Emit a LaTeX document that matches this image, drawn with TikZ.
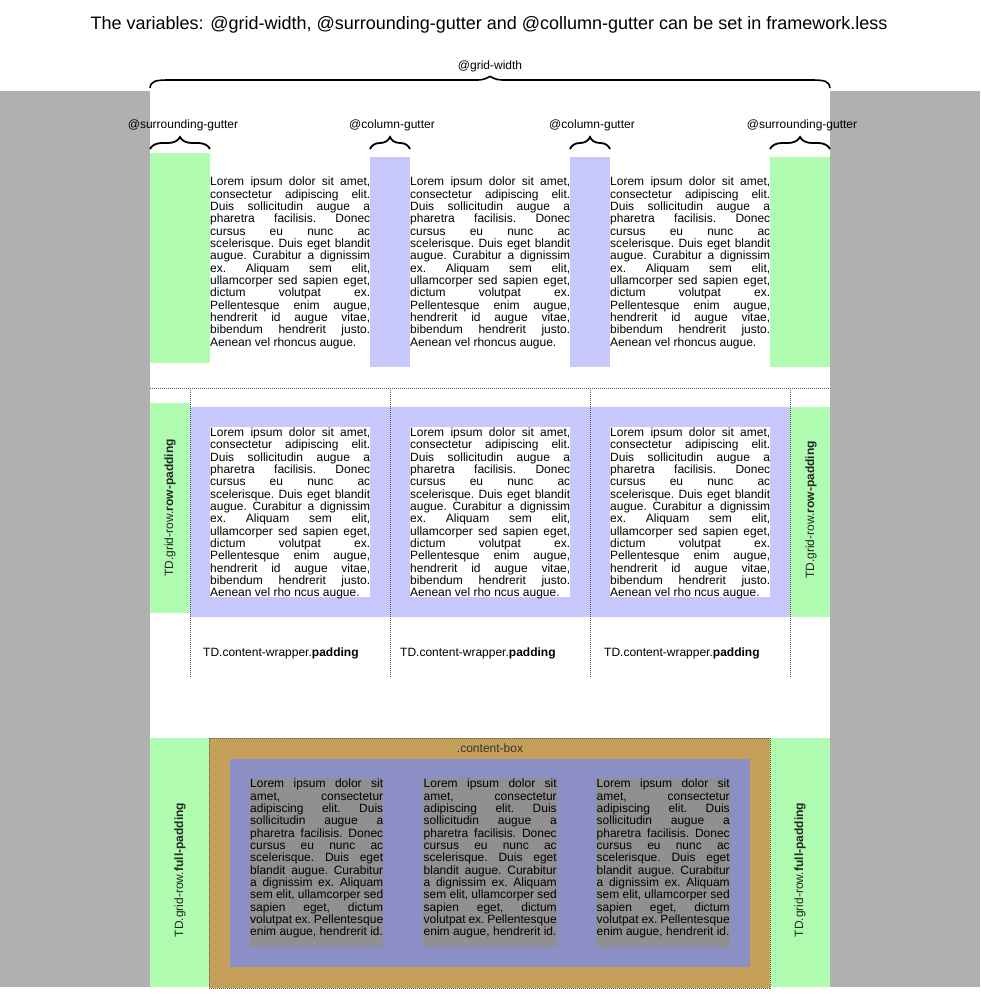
\documentclass[tikz,border=0pt]{standalone}
\usepackage{fontspec}
\setmainfont{Liberation Sans}
\usetikzlibrary{decorations.pathreplacing}
\definecolor{bggray}{RGB}{175,176,175}
\definecolor{gutgreen}{RGB}{176,252,176}
\definecolor{gutblue}{RGB}{200,200,252}
\definecolor{boxbrown}{RGB}{196,160,90}
\definecolor{boxpurple}{RGB}{140,143,198}
\definecolor{boxgray}{RGB}{143,144,143}
\definecolor{dotgray}{RGB}{90,90,90}
\newdimen\lorw
\newcommand\lorfont{\fontsize{12}{12.33}\selectfont\frenchspacing\spaceskip=0.278em plus 1fil minus 0.06em\relax}
\newcommand\jl[1]{\hbox to \lorw{#1}}
\newcommand\lastl[1]{\hbox to \lorw{#1\hfill}}
\newcommand\loremtext[1]{\vbox{\lorw=160pt\lorfont
\jl{Lorem ipsum dolor sit amet,}\jl{consectetur adipiscing elit.}\jl{Duis sollicitudin augue a}\jl{pharetra facilisis. Donec}\jl{cursus eu nunc ac}\jl{scelerisque. Duis eget blandit}\jl{augue. Curabitur a dignissim}\jl{ex. Aliquam sem elit,}\jl{ullamcorper sed sapien eget,}\jl{dictum volutpat ex.}\jl{Pellentesque enim augue,}\jl{hendrerit id augue vitae,}\jl{bibendum hendrerit justo.}\lastl{#1}}}
\newcommand\loremshort{\vbox{\lorw=133pt\lorfont
\jl{Lorem ipsum dolor sit}\jl{amet, consectetur}\jl{adipiscing elit. Duis}\jl{sollicitudin augue a}\jl{pharetra facilisis. Donec}\jl{cursus eu nunc ac}\jl{scelerisque. Duis eget}\jl{blandit augue. Curabitur}\jl{a dignissim ex. Aliquam}\jl{sem elit, ullamcorper sed}\jl{sapien eget, dictum}\jl{volutpat ex. Pellentesque}\lastl{enim augue, hendrerit id.}}}
\begin{document}
\begin{tikzpicture}[x=1pt,y=-1pt,
  green/.style={fill=gutgreen,draw=none},
  blue/.style={fill=gutblue,draw=none},
  dotline/.style={draw=dotgray,line width=0.8pt,dash pattern=on 1pt off 1pt},
  lorem/.style={anchor=north west,inner sep=0pt},
  lbl/.style={font=\fontsize{12}{14}\selectfont,inner sep=0pt},
  vlbl/.style={font=\fontsize{12}{14}\selectfont,inner sep=0pt,rotate=90,text=black!85},
  brc/.style={decorate,decoration={brace,amplitude=12pt},line width=1.8pt}]
\useasboundingbox (0,0) rectangle (980,1000);
\fill[white] (0,0) rectangle (980,1000);
% gray side areas
\fill[bggray] (0,91) rectangle (150,987);
\fill[bggray] (830,91) rectangle (980,987);
% title
\node[font=\fontsize{18}{21}\selectfont,inner sep=0pt] (title) at (489,25) {The variables: @grid-width, @surrounding-gutter and @collumn-gutter can be set in framework.less};
% big brace
\draw[line width=1.6pt] (150,88) .. controls (151,81) and (155,80) .. (170,80) -- (478,80) .. controls (485,80) and (488,77) .. (490,76.5) .. controls (492,77) and (495,80) .. (502,80) -- (810,80) .. controls (825,80) and (829,81) .. (830,88);
\node[lbl] (gw) at (490,66) {@grid-width};
% small braces
\draw[brc] (150,149) -- (210,149);
\draw[brc] (370,149) -- (410,149);
\draw[brc] (570,149) -- (610,149);
\draw[brc] (770,149) -- (830,149);
\node[lbl] (sg1) at (183,125) {@surrounding-gutter};
\node[lbl] (cg1) at (392,125) {@column-gutter};
\node[lbl] (cg2) at (592,125) {@column-gutter};
\node[lbl] (sg2) at (802,125) {@surrounding-gutter};
% section 1
\fill[green] (150,153) rectangle (210,363);
\fill[blue] (370,157) rectangle (410,367);
\fill[blue] (570,157) rectangle (610,367);
\fill[green] (770,157) rectangle (830,367);
\node[lorem] (t11) at (210,177) {\loremtext{Aenean vel rhoncus augue.}};
\node[lorem] (t12) at (410,177) {\loremtext{Aenean vel rhoncus augue.}};
\node[lorem] (t13) at (610,177) {\loremtext{Aenean vel rhoncus augue.}};
% section 2
\fill[green] (150,403) rectangle (190,613);
\fill[blue] (190,407) rectangle (790,617);
\fill[green] (790,407) rectangle (830,617);
\fill[white] (210,427) rectangle (370,597);
\fill[white] (410,427) rectangle (570,597);
\fill[white] (610,427) rectangle (770,597);
\node[lorem] (t21) at (210,427.5) {\loremtext{Aenean vel rho ncus augue.}};
\node[lorem] (t22) at (410,427.5) {\loremtext{Aenean vel rho ncus augue.}};
\node[lorem] (t23) at (610,427.5) {\loremtext{Aenean vel rho ncus augue.}};
\draw[dotline] (150,388) -- (830,388);
\foreach \x in {190,390,590,790} {\draw[dotline] (\x,388) -- (\x,678);}
\node[vlbl] (rp1) at (170,508) {TD.grid-row.\textbf{row-padding}};
\node[vlbl] (rp2) at (811,510) {TD.grid-row.\textbf{row-padding}};
\node[lbl,anchor=west] (cw1) at (203,653) {TD.content-wrapper.\textbf{padding}};
\node[lbl,anchor=west] (cw2) at (400,653) {TD.content-wrapper.\textbf{padding}};
\node[lbl,anchor=west] (cw3) at (604,653) {TD.content-wrapper.\textbf{padding}};
% section 3
\fill[green] (150,738) rectangle (209,987);
\fill[green] (770,738) rectangle (830,987);
\fill[boxbrown] (209,738) rectangle (770,988);
\draw[dotline] (209,738) rectangle (770,988);
\fill[boxpurple] (230,759) rectangle (750,967);
\fill[boxgray] (250,779) rectangle (383,947);
\fill[boxgray] (423,779) rectangle (557,947);
\fill[boxgray] (596,779) rectangle (730,947);
\node[lorem] (t31) at (250,779) {\loremshort};
\node[lorem] (t32) at (423.5,779) {\loremshort};
\node[lorem] (t33) at (596.5,779) {\loremshort};
\node[lbl,text=black!80] (cb) at (490,748) {.content-box};
\node[vlbl] (fp1) at (180,870) {TD.grid-row.\textbf{full-padding}};
\node[vlbl] (fp2) at (800,870) {TD.grid-row.\textbf{full-padding}};
\end{tikzpicture}
\end{document}
